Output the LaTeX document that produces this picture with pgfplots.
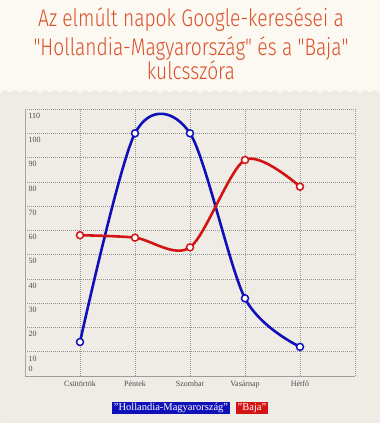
\documentclass[border=0pt]{standalone}
\usepackage{fontspec}
\usepackage{pgfplots}
\pgfplotsset{compat=1.18}
\setmainfont{Liberation Serif}
\newfontfamily\titlefont{Fira Sans Light}[FakeStretch=0.8]
\definecolor{topbg}{RGB}{252,249,243}
\definecolor{botbg}{RGB}{239,236,230}
\definecolor{titlecol}{RGB}{218,80,40}
\definecolor{hblue}{RGB}{16,16,184}
\definecolor{bred}{RGB}{210,20,20}
\begin{document}
\begin{tikzpicture}[x=1pt,y=1pt]
\path[use as bounding box] (0,0) rectangle (380,423);
\fill[topbg] (0,0) rectangle (380,423);
\fill[botbg, rounded corners=1.5pt] (0,0) -- (0,330) foreach \i in {0,...,37} { -- ({\i*10+5},333.5) -- ({\i*10+10},330) } -- (380,0) -- cycle;
\node[anchor=base, text=titlecol, font=\titlefont\fontsize{24}{26}\selectfont] at (191,396) {Az elmúlt napok Google-keresései a};
\node[anchor=base, text=titlecol, font=\titlefont\fontsize{24}{26}\selectfont] at (191,367) {"Hollandia-Magyarország" és a "Baja"};
\node[anchor=base, text=titlecol, font=\titlefont\fontsize{24}{26}\selectfont] at (191,343) {kulcsszóra};
\begin{axis}[at={(25pt,47pt)}, anchor=south west, scale only axis, width=330pt, height=267pt,
  xmin=-1, xmax=5, ymin=0, ymax=110,
  xtick={0,...,5}, xticklabels={Csütörtök,Péntek,Szombat,Vasárnap,Hétfő,},
  ytick={10,20,...,110},
  extra y ticks={0},
  extra y tick style={yticklabel style={anchor=south west, yshift=1pt}},
  grid=major, grid style={gray!85, dash pattern=on 1pt off 1pt, line width=0.5pt},
  axis x line*=bottom, axis y line*=left, axis line style={gray!70, line width=0.8pt, -},
  major tick length=0pt,
  tick label style={font=\fontsize{8}{9}\selectfont, text=black!70},
  yticklabel style={anchor=north west, yshift=-0.5pt},
  xticklabel style={yshift=-1pt},
  /pgf/number format/assume math mode=true,
  clip=false,
]
\addplot[hblue, line width=2.6pt, smooth, mark=*, mark size=3.5pt, mark options={draw=hblue, fill=white, line width=1.5pt, solid}] coordinates {(0,14)(1,100)(2,100)(3,32)(4,12)};
\addplot[bred, line width=2.6pt, smooth, mark=*, mark size=3.5pt, mark options={draw=bred, fill=white, line width=1.5pt, solid}] coordinates {(0,58)(1,57)(2,53)(3,89)(4,78)};
\end{axis}
\node[fill=hblue, text=white, inner sep=1.5pt, font=\fontsize{10.5}{11}\selectfont] at (171,15) {"Hollandia-Magyarország"};
\node[fill=bred, text=white, inner sep=1.5pt, font=\fontsize{10.5}{11}\selectfont] at (252,15) {"Baja"};
\end{tikzpicture}
\end{document}
